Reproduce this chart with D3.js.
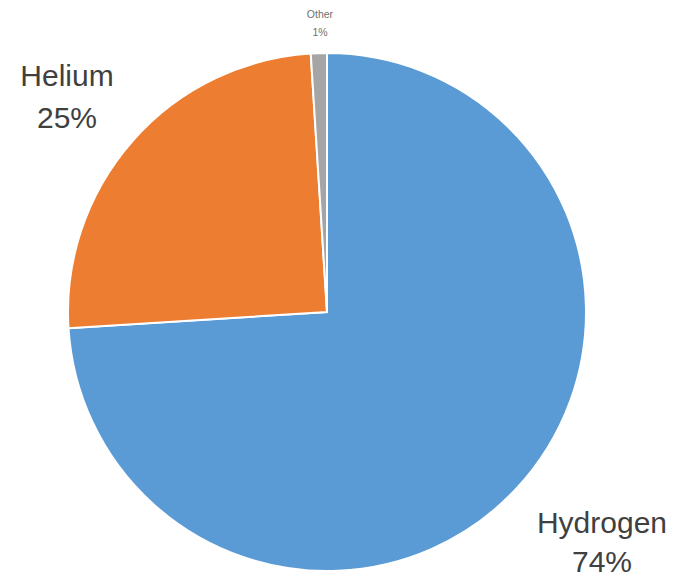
<!DOCTYPE html>
<html>
<head>
<meta charset="utf-8">
<script src="https://cdn.jsdelivr.net/npm/d3@7"></script>
<style>
  body { margin: 0; background: #fff; }
  text { font-family: "Liberation Sans", Arial, sans-serif; fill: #404040; }
</style>
</head>
<body>
<div id="chart"></div>
<script>
// data
const elements = ["Hydrogen", "Helium", "Other"];
const shares = [74, 25, 1];
const colors = ["#5b9bd5", "#ed7d31", "#a5a5a5"];

const width = 674, height = 578;
const cx = 327, cy = 312, radius = 259;

const svg = d3.select("#chart")
  .append("svg")
    .attr("width", width)
    .attr("height", height);

const data = elements.map((name, i) => ({name: name, value: shares[i]}));

const color = d3.scaleOrdinal()
  .domain(elements)
  .range(colors);

const pie = d3.pie()
  .value(d => d.value)
  .sort(null);

const arc = d3.arc()
  .innerRadius(0)
  .outerRadius(radius);

const g = svg.append("g")
  .attr("transform", `translate(${cx}, ${cy})`);

g.selectAll("path")
  .data(pie(data))
  .join("path")
    .attr("d", arc)
    .attr("fill", d => color(d.data.name))
    .attr("stroke", "#fff")
    .attr("stroke-width", 2);

// labels, placed outside the pie
const labelPos = {
  Hydrogen: {x: 602, y: 533, size: 30, gap: 39},
  Helium:   {x: 67,  y: 86,  size: 30, gap: 42},
  Other:    {x: 320, y: 18,  size: 10.5, gap: 18}
};

const labels = svg.selectAll("g.lbl")
  .data(data)
  .join("g")
    .attr("class", "lbl");

labels.append("text")
  .attr("x", d => labelPos[d.name].x)
  .attr("y", d => labelPos[d.name].y)
  .attr("text-anchor", "middle")
  .style("font-size", d => labelPos[d.name].size + "px")
  .style("fill", d => d.name === "Other" ? "#707070" : "#404040")
  .text(d => d.name);

labels.append("text")
  .attr("x", d => labelPos[d.name].x)
  .attr("y", d => labelPos[d.name].y + labelPos[d.name].gap)
  .attr("text-anchor", "middle")
  .style("font-size", d => labelPos[d.name].size + "px")
  .style("fill", d => d.name === "Other" ? "#707070" : "#404040")
  .text(d => d.value + "%");
</script>
</body>
</html>
